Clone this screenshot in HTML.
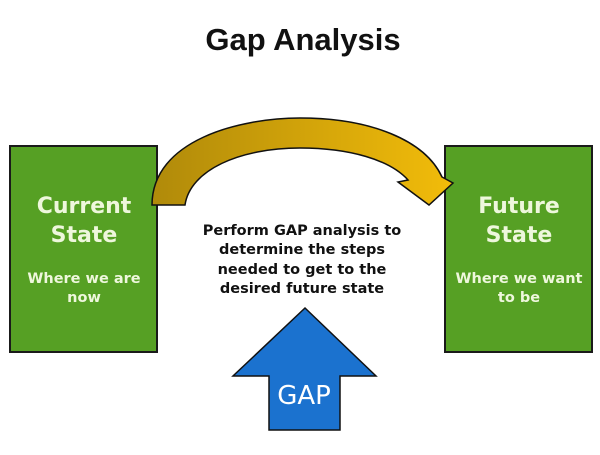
<!DOCTYPE html>
<html><head><style>
body{margin:0;background:#fff;width:600px;height:451px;overflow:hidden;font-family:"DejaVu Sans","Liberation Sans",sans-serif}
</style></head><body>
<svg width="600" height="451" xmlns="http://www.w3.org/2000/svg">
<defs><linearGradient id="g" x1="0" x2="1" y1="0" y2="0"><stop offset="0" stop-color="#b08a0a"/><stop offset="1" stop-color="#f2bc0a"/></linearGradient></defs>
<text x="303" y="50" font-family="Liberation Sans, sans-serif" font-weight="bold" font-size="31" text-anchor="middle" fill="#111">Gap Analysis</text>
<rect x="10" y="146" width="147" height="206" fill="#56a024" stroke="#1a1a1a" stroke-width="2"/>
<rect x="445" y="146" width="147" height="206" fill="#56a024" stroke="#1a1a1a" stroke-width="2"/>
<path d="M152,205 C152,140 240,118 300,118 C370,118 425,140 442,177 L453,183 L429,205 L398,182 L408,180 C390,160 350,148 300,148 C240,148 190,170 185,205 Z" fill="url(#g)" stroke="#111" stroke-width="1.5"/>
<path d="M305,308 L376,376 L340,376 L340,430 L269,430 L269,376 L233,376 Z" fill="#1b72cf" stroke="#111" stroke-width="1.5"/>
<text x="304" y="404" font-size="26" text-anchor="middle" fill="#fff">GAP</text>
<g font-weight="bold" fill="#eef7dc" text-anchor="middle">
<text x="84" y="213" font-size="22">Current</text>
<text x="84" y="242" font-size="22">State</text>
<text x="84" y="283" font-size="14.5">Where we are</text>
<text x="84" y="302" font-size="14.5">now</text>
<text x="519" y="213" font-size="22">Future</text>
<text x="519" y="242" font-size="22">State</text>
<text x="519" y="283" font-size="14.5">Where we want</text>
<text x="519" y="302" font-size="14.5">to be</text>
</g>
<g font-weight="bold" fill="#111" text-anchor="middle" font-size="14.5">
<text x="302" y="235">Perform GAP analysis  to</text>
<text x="302" y="254">determine the steps</text>
<text x="302" y="274">needed to get to the</text>
<text x="302" y="293">desired future state</text>
</g>
</svg>
</body></html>
